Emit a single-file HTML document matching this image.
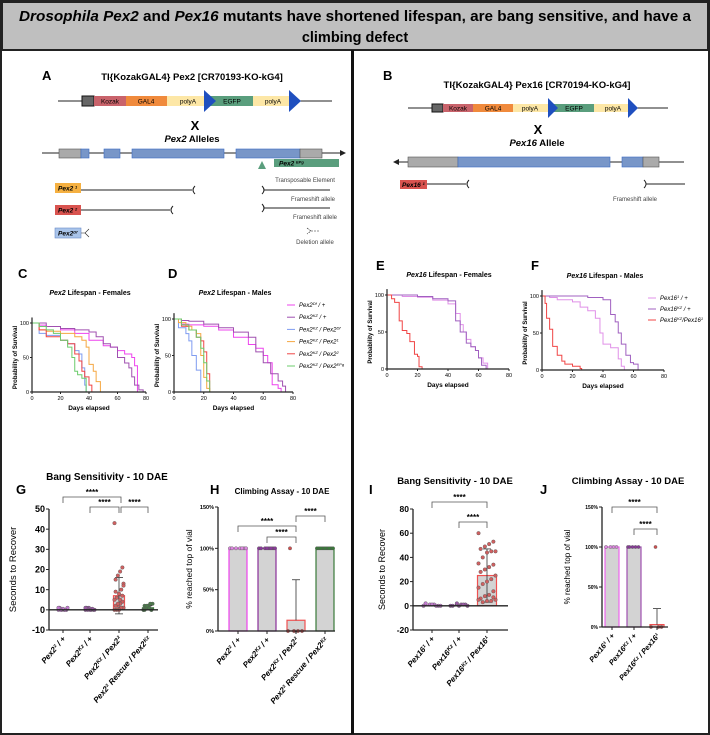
<!DOCTYPE html>
<html><head><meta charset="utf-8"><style>
html,body{margin:0;padding:0;background:#fff}
svg{display:block;font-family:"Liberation Sans",sans-serif}
</style></head><body>
<svg id="fig" width="710" height="735" viewBox="0 0 710 735">
<rect x="1" y="1" width="708" height="733" fill="#fff" stroke="#222" stroke-width="2"/>
<rect x="2" y="2" width="706" height="48" fill="#bfbfbf" stroke="#222" stroke-width="2"/>
<text x="355" y="21" font-size="14.5" font-weight="bold" text-anchor="middle" textLength="672" lengthAdjust="spacingAndGlyphs"><tspan font-style="italic">Drosophila Pex2</tspan> and <tspan font-style="italic">Pex16</tspan> mutants have shortened lifespan, are bang sensitive, and have a</text>
<text x="355" y="42" font-size="14.5" font-weight="bold" text-anchor="middle">climbing defect</text>
<line x1="352.5" y1="50" x2="352.5" y2="734" stroke="#111" stroke-width="3"/>

<!-- Panel A -->
<g font-size="6.5">
<text x="42" y="80" font-size="13" font-weight="bold">A</text>
<text x="192" y="80" font-size="9.5" font-weight="bold" text-anchor="middle">TI{KozakGAL4} Pex2 [CR70193-KO-kG4]</text>
<line x1="58" y1="101" x2="332" y2="101" stroke="#222"/>
<rect x="82" y="96" width="12" height="10" fill="#666" stroke="#111"/>
<rect x="94" y="96" width="32" height="10" fill="#c9636b"/><text x="110" y="103.5" text-anchor="middle">Kozak</text>
<rect x="126" y="96" width="41" height="10" fill="#f08a3c"/><text x="146" y="103.5" text-anchor="middle">GAL4</text>
<rect x="167" y="96" width="38" height="10" fill="#fde7a6"/><text x="188" y="103.5" text-anchor="middle">polyA</text>
<rect x="210" y="96" width="43" height="10" fill="#5a9e7d"/><text x="232" y="103.5" text-anchor="middle">EGFP</text>
<rect x="253" y="96" width="37" height="10" fill="#fde7a6"/><text x="273" y="103.5" text-anchor="middle">polyA</text>
<polygon points="204,90 216,101 204,112" fill="#1f4fbf"/>
<polygon points="289,90 301,101 289,112" fill="#1f4fbf"/>
<text x="195" y="130" font-size="13" font-weight="bold" text-anchor="middle">X</text>
<text x="192" y="142" font-size="9.5" font-weight="bold" text-anchor="middle"><tspan font-style="italic">Pex2</tspan> Alleles</text>
<line x1="42" y1="153" x2="343" y2="153" stroke="#222"/><polygon points="346,153 340,150 340,156" fill="#222"/>
<rect x="59" y="149" width="22" height="9" fill="#aaa" stroke="#555" stroke-width="0.6"/>
<rect x="81" y="149" width="8" height="9" fill="#7896c8" stroke="#3b6cc4" stroke-width="0.6"/>
<rect x="104" y="149" width="16" height="9" fill="#7896c8" stroke="#3b6cc4" stroke-width="0.6"/>
<rect x="132" y="149" width="92" height="9" fill="#7896c8" stroke="#3b6cc4" stroke-width="0.6"/>
<rect x="236" y="149" width="64" height="9" fill="#7896c8" stroke="#3b6cc4" stroke-width="0.6"/>
<rect x="300" y="149" width="22" height="9" fill="#aaa" stroke="#555" stroke-width="0.6"/>
<polygon points="262,161 258,169 266,169" fill="#5a9e7d"/>
<rect x="274" y="159" width="65" height="8" fill="#5a9e7d"/><text x="279" y="165.5" font-style="italic" font-weight="bold">Pex2 <tspan font-size="4" dy="-2">EPg</tspan></text>
<text x="305" y="182" text-anchor="middle" fill="#444" font-size="6">Transposable Element</text>
<rect x="55" y="183" width="26" height="10" fill="#f5b041"/><text x="58" y="190.5" font-style="italic" font-weight="bold">Pex2 <tspan font-size="4" dy="-2">1</tspan></text>
<line x1="81" y1="190" x2="192" y2="190" stroke="#222"/><path d="M195,186 Q191,190 195,194" fill="none" stroke="#222"/>
<path d="M262,186 Q266,190 262,194" fill="none" stroke="#222"/><line x1="264" y1="190" x2="330" y2="190" stroke="#222"/>
<text x="313" y="201" text-anchor="middle" fill="#444" font-size="6">Frameshift allele</text>
<rect x="55" y="205" width="26" height="10" fill="#d9534f"/><text x="58" y="212.5" font-style="italic" font-weight="bold">Pex2 <tspan font-size="4" dy="-2">2</tspan></text>
<line x1="81" y1="210" x2="170" y2="210" stroke="#222"/><path d="M173,206 Q169,210 173,214" fill="none" stroke="#222"/>
<path d="M262,204 Q266,208 262,212" fill="none" stroke="#222"/><line x1="264" y1="208" x2="330" y2="208" stroke="#222"/>
<text x="315" y="219" text-anchor="middle" fill="#444" font-size="6">Frameshift allele</text>
<rect x="55" y="228" width="26" height="10" fill="#a9c4ea" stroke="#6a8cc8" stroke-width="0.6"/><text x="58" y="235.5" font-style="italic" font-weight="bold">Pex2<tspan font-size="4" dy="-2">Df</tspan></text>
<path d="M81,233 L85,233 L89,229 M85,233 L89,237" fill="none" stroke="#222" stroke-width="0.6"/>
<path d="M307,228 L311,231 L307,234 M311,231 L320,231" fill="none" stroke="#222" stroke-width="0.6" stroke-dasharray="2,1"/>
<text x="315" y="244" text-anchor="middle" fill="#444" font-size="6">Deletion allele</text>
</g>

<!-- Panel B -->
<g font-size="6.5">
<text x="383" y="80" font-size="13" font-weight="bold">B</text>
<text x="537" y="88" font-size="9.5" font-weight="bold" text-anchor="middle">TI{KozakGAL4} Pex16 [CR70194-KO-kG4]</text>
<line x1="408" y1="108" x2="668" y2="108" stroke="#222"/>
<rect x="432" y="104" width="11" height="8" fill="#666" stroke="#111"/>
<rect x="443" y="104" width="30" height="8" fill="#c9636b"/><text x="458" y="110.5" text-anchor="middle">Kozak</text>
<rect x="473" y="104" width="40" height="8" fill="#f08a3c"/><text x="493" y="110.5" text-anchor="middle">GAL4</text>
<rect x="513" y="104" width="37" height="8" fill="#fde7a6"/><text x="530" y="110.5" text-anchor="middle">polyA</text>
<rect x="553" y="104" width="41" height="8" fill="#5a9e7d"/><text x="574" y="110.5" text-anchor="middle">EGFP</text>
<rect x="594" y="104" width="36" height="8" fill="#fde7a6"/><text x="613" y="110.5" text-anchor="middle">polyA</text>
<polygon points="548,98 558,108 548,118" fill="#1f4fbf"/>
<polygon points="628,98 638,108 628,118" fill="#1f4fbf"/>
<text x="538" y="134" font-size="13" font-weight="bold" text-anchor="middle">X</text>
<text x="537" y="146" font-size="9.5" font-weight="bold" text-anchor="middle"><tspan font-style="italic">Pex16</tspan> Allele</text>
<line x1="396" y1="162" x2="684" y2="162" stroke="#222"/><polygon points="393,162 399,159 399,165" fill="#222"/>
<rect x="408" y="157" width="50" height="10" fill="#aaa" stroke="#555" stroke-width="0.6"/>
<rect x="458" y="157" width="152" height="10" fill="#7896c8" stroke="#3b6cc4" stroke-width="0.6"/>
<rect x="622" y="157" width="21" height="10" fill="#7896c8" stroke="#3b6cc4" stroke-width="0.6"/>
<rect x="643" y="157" width="16" height="10" fill="#aaa" stroke="#555" stroke-width="0.6"/>
<rect x="400" y="180" width="27" height="9" fill="#d9534f"/><text x="402" y="187" font-style="italic" font-weight="bold">Pex16 <tspan font-size="4" dy="-2">1</tspan></text>
<line x1="427" y1="184" x2="466" y2="184" stroke="#222"/><path d="M469,180 Q465,184 469,188" fill="none" stroke="#222"/>
<path d="M644,180 Q648,184 644,188" fill="none" stroke="#222"/><line x1="646" y1="184" x2="685" y2="184" stroke="#222"/>
<text x="635" y="201" text-anchor="middle" fill="#444" font-size="6">Frameshift allele</text>
</g>

<g font-size="13" font-weight="bold">
<text x="18" y="278">C</text><text x="168" y="278">D</text>
<text x="376" y="270">E</text><text x="531" y="270">F</text>
<text x="16" y="494">G</text><text x="210" y="494">H</text>
<text x="369" y="494">I</text><text x="540" y="494">J</text>
</g>
<g id="charts"></g>
</svg>
<script>
// ---------- survival data ----------
const cFemDfDays=[0,5,10,20,30,40,50,55,60,65,70,72,74];
const cFemDfSurv=[100,97,95,90,85,75,67,65,60,55,50,38,0];
const cFemKzDays=[0,10,20,30,40,45,50,55,60,65,68,70,72,75,78];
const cFemKzSurv=[100,95,92,90,87,80,70,65,50,42,35,22,10,3,0];
const cFemKzDfDays=[0,5,10,20,25,30,33,35,37,38];
const cFemKzDfSurv=[100,85,82,75,70,60,55,35,10,0];
const cFemKz1Days=[0,5,10,20,30,35,38,40,43,45,48];
const cFemKz1Surv=[100,90,88,85,80,75,65,40,30,15,0];
const cFemKz2Days=[0,5,10,20,25,30,33,35,37,40,42];
const cFemKz2Surv=[100,90,80,75,70,55,45,30,22,10,0];
const cFemEpgDays=[0,5,10,15,20,25,28,30,32,35,38];
const cFemEpgSurv=[100,95,90,85,75,65,50,30,25,20,0];
const dMalDfDays=[0,5,10,20,30,40,50,55,60,63,66,70,72];
const dMalDfSurv=[100,93,92,90,85,75,65,60,50,40,10,5,0];
const dMalKzDays=[0,5,10,20,30,40,50,55,60,65,70,73,75];
const dMalKzSurv=[100,98,97,93,88,82,75,55,40,25,15,8,0];
const dMalKzDfDays=[0,3,8,10,12,15,18];
const dMalKzDfSurv=[100,88,80,70,50,30,0];
const dMalKz1Days=[0,3,8,12,15,18,20,22,24];
const dMalKz1Surv=[100,95,90,85,80,50,20,5,0];
const dMalKz2Days=[0,5,10,15,18,20,22,24];
const dMalKz2Surv=[100,90,85,75,70,55,25,0];
const dMalEpgDays=[0,5,10,15,18,20,22,24];
const dMalEpgSurv=[100,92,85,75,60,40,15,0];
const eFem1Days=[0,10,20,30,40,45,48,50,52,55,58,60,63,66];
const eFem1Surv=[100,98,97,93,88,75,60,50,40,30,25,15,8,0];
const eFemKzDays=[0,20,30,40,45,48,52,55,58,60,62,65];
const eFemKzSurv=[100,98,95,92,65,50,35,30,25,15,5,0];
const eFemMutDays=[0,3,5,8,10,13,15,17,18,20,21,23];
const eFemMutSurv=[100,95,90,65,52,48,37,37,20,17,3,0];
const fMal1Days=[0,5,10,20,25,30,35,38,40,45,50,52,54];
const fMal1Surv=[100,98,95,92,85,80,70,50,35,30,15,5,0];
const fMalKzDays=[0,20,30,40,45,48,50,52,55,58,60,63];
const fMalKzSurv=[100,100,98,95,75,65,50,35,20,10,8,0];
const fMalMutDays=[0,2,3,5,7,10,13,15,20,25,26];
const fMalMutSurv=[100,90,70,55,32,20,12,8,5,2,0];
const survTicksX=[0,20,40,60,80];
const survTicksY=[0,50,100];

// ---------- bar data ----------
const gCats=["Pex2² / +","Pex2ᴷᶻ / +","Pex2ᴷᶻ / Pex2²","Pex2² Rescue / Pex2ᴷᶻ"];
const gMeans=[0.3,0.3,7,1];
const gSd=[0.4,0.4,9,1];
const gDots1=[0,0,0,0,1,1,0,0.5,0,1];
const gDots2=[0,0,0,1,1,0,0.5,0,0,1];
const gDots3=[43,21,19,17,15,13,10,8,6,5,4,3,2,2,1,1,0,0,0,7,5,3,9,12];
const gDots4=[0,0,1,1,2,3,3,2,1,0,0,1,2,0];
const gTicks=[-10,0,10,20,30,40,50];
const hCats=["Pex2² / +","Pex2ᴷᶻ / +","Pex2ᴷᶻ / Pex2²","Pex2² Rescue / Pex2ᴷᶻ"];
const hMeans=[100,100,13,100];
const hErrUp=[0,0,49,0];
const hDots1=[100,100,100,100,100,100,100];
const hDots2=[100,100,100,100,100,100,100,100];
const hDots3=[0,0,0,0,100];
const hDots4=[100,100,100,100,100,100,100,100,100];
const hTicks=[0,50,100,150];
const iCats=["Pex16¹ / +","Pex16ᴷᶻ / +","Pex16ᴷᶻ / Pex16¹"];
const iMeans=[0.5,0.5,25];
const iSd=[0.5,0.5,22];
const iDots1=[0,0,1,1,2,0,0,1];
const iDots2=[0,1,1,2,0,0,1,0];
const iDots3=[60,53,51,49,47,45,45,44,40,35,34,32,30,28,25,22,20,18,15,12,9,8,6,5,4,4,3,5,7];
const iTicks=[-20,0,20,40,60,80];
const jCats=["Pex16¹ / +","Pex16ᴷᶻ / +","Pex16ᴷᶻ / Pex16¹"];
const jMeans=[100,100,3];
const jErrUp=[0,0,20];
const jDots1=[100,100,100,100];
const jDots2=[100,100,100,100,100];
const jDots3=[0,0,0,100];
const jTicks=[0,50,100,150];

const NS="http://www.w3.org/2000/svg";
const root=document.getElementById('charts');
function mk(tag,attrs,parent,txt){const e=document.createElementNS(NS,tag);for(const k in attrs)e.setAttribute(k,attrs[k]);if(txt!==undefined)e.textContent=txt;(parent||root).appendChild(e);return e;}

function survChart(cfg){
  const g=mk('g',{});
  
  
  const sx=v=>cfg.x0+(cfg.x1-cfg.x0)*v/80, sy=v=>cfg.y0+(cfg.y1-cfg.y0)*v/100;
  const t=mk('text',{x:cfg.tx,y:cfg.ty,'font-size':7,'font-weight':'bold','text-anchor':'middle'},g);
  t.innerHTML='<tspan font-style="italic">'+cfg.gene+'</tspan> '+cfg.title;
  
  
  cfg.series.forEach(s=>{
    let d='M'+sx(s.d[0])+','+sy(s.s[0]);
    for(let i=1;i<s.d.length;i++){d+=' H'+sx(s.d[i])+' V'+sy(s.s[i]);}
    const p=mk('path',{d:d,fill:'none',stroke:s.c,'stroke-width':1},g);
    
    
  });
  mk('line',{x1:cfg.x0,y1:cfg.y0,x2:cfg.x1,y2:cfg.y0,stroke:'#222','stroke-width':1.2},g);
  mk('line',{x1:cfg.x0,y1:cfg.y0,x2:cfg.x0,y2:sy(108),stroke:'#222','stroke-width':1.2},g);
  survTicksX.forEach(v=>{mk('line',{x1:sx(v),y1:cfg.y0,x2:sx(v),y2:cfg.y0+2,stroke:'#222'},g);
    mk('text',{x:sx(v),y:cfg.y0+8,'font-size':5.5,'text-anchor':'middle'},g,String(v));});
  survTicksY.forEach(v=>{mk('line',{x1:cfg.x0-2,y1:sy(v),x2:cfg.x0,y2:sy(v),stroke:'#222'},g);
    mk('text',{x:cfg.x0-3,y:sy(v)+2,'font-size':5.5,'text-anchor':'end'},g,String(v));});
  mk('text',{x:(cfg.x0+cfg.x1)/2,y:cfg.y0+18,'font-size':6.5,'font-weight':'bold','text-anchor':'middle'},g,'Days elapsed');
  mk('text',{x:0,y:0,'font-size':6,'font-weight':'bold','text-anchor':'middle',transform:`translate(${cfg.x0-15},${(cfg.y0+cfg.y1)/2}) rotate(-90)`},g,'Probability of Survival');
  if(cfg.legend){cfg.legend.forEach((l,i)=>{const y=cfg.ly+i*cfg.ld;
    mk('line',{x1:cfg.lx,y1:y,x2:cfg.lx+8,y2:y,stroke:cfg.series[i].c},g);
    const lt=mk('text',{x:cfg.lx+12,y:y+2,'font-size':6,'font-style':'italic'},g);lt.innerHTML=l;
    
    });}
}
const P2={df:'#ee44ee',kz:'#a050b0',kzdf:'#7f9cf0',k1:'#f5a742',k2:'#f04545',epg:'#6ccc6c'};
survChart({name:'pex2-females-survival',gene:'Pex2',title:'Lifespan - Females',tx:90,ty:295,x0:32,x1:146,y0:392,y1:323,series:[
 {d:cFemDfDays,s:cFemDfSurv,c:P2.df},{d:cFemKzDays,s:cFemKzSurv,c:P2.kz},{d:cFemKzDfDays,s:cFemKzDfSurv,c:P2.kzdf},
 {d:cFemKz1Days,s:cFemKz1Surv,c:P2.k1},{d:cFemKz2Days,s:cFemKz2Surv,c:P2.k2},{d:cFemEpgDays,s:cFemEpgSurv,c:P2.epg}]});
survChart({name:'pex2-males-survival',gene:'Pex2',title:'Lifespan - Males',tx:235,ty:295,x0:174,x1:293,y0:392,y1:319,series:[
 {d:dMalDfDays,s:dMalDfSurv,c:P2.df},{d:dMalKzDays,s:dMalKzSurv,c:P2.kz},{d:dMalKzDfDays,s:dMalKzDfSurv,c:P2.kzdf},
 {d:dMalKz1Days,s:dMalKz1Surv,c:P2.k1},{d:dMalKz2Days,s:dMalKz2Surv,c:P2.k2},{d:dMalEpgDays,s:dMalEpgSurv,c:P2.epg}],
 lx:287,ly:305,ld:12.2,legend:['Pex2<tspan font-size="4" dy="-2">Df</tspan><tspan dy="2"> / +</tspan>','Pex2<tspan font-size="4" dy="-2">KZ</tspan><tspan dy="2"> / +</tspan>','Pex2<tspan font-size="4" dy="-2">KZ</tspan><tspan dy="2"> / Pex2</tspan><tspan font-size="4" dy="-2">Df</tspan>','Pex2<tspan font-size="4" dy="-2">KZ</tspan><tspan dy="2"> / Pex2</tspan><tspan font-size="4" dy="-2">1</tspan>','Pex2<tspan font-size="4" dy="-2">KZ</tspan><tspan dy="2"> / Pex2</tspan><tspan font-size="4" dy="-2">2</tspan>','Pex2<tspan font-size="4" dy="-2">KZ</tspan><tspan dy="2"> / Pex2</tspan><tspan font-size="4" dy="-2">EPg</tspan>']});
const P16={a:'#e090e8',kz:'#a060c0',m:'#f04545'};
survChart({name:'pex16-females-survival',gene:'Pex16',title:'Lifespan - Females',tx:449,ty:277,x0:387,x1:509,y0:369,y1:295,series:[
 {d:eFem1Days,s:eFem1Surv,c:P16.a},{d:eFemKzDays,s:eFemKzSurv,c:P16.kz},{d:eFemMutDays,s:eFemMutSurv,c:P16.m}]});
survChart({name:'pex16-males-survival',gene:'Pex16',title:'Lifespan - Males',tx:605,ty:278,x0:542,x1:664,y0:370,y1:296,series:[
 {d:fMal1Days,s:fMal1Surv,c:P16.a},{d:fMalKzDays,s:fMalKzSurv,c:P16.kz},{d:fMalMutDays,s:fMalMutSurv,c:P16.m}],
 lx:648,ly:298,ld:11,legend:['Pex16<tspan font-size="4" dy="-2">1</tspan><tspan dy="2"> / +</tspan>','Pex16<tspan font-size="4" dy="-2">KZ</tspan><tspan dy="2"> / +</tspan>','Pex16<tspan font-size="4" dy="-2">KZ</tspan><tspan dy="2">/Pex16</tspan><tspan font-size="4" dy="-2">1</tspan>']});

function barChart(c){
  const g=mk('g',{});
  
  
  const vmin=c.ticks[0],vmax=c.ticks[c.ticks.length-1];
  const sy=v=>c.yb+(c.yt-c.yb)*(v-vmin)/(vmax-vmin);
  const t=mk('text',{x:c.tx,y:c.ty,'font-size':c.tfs,'font-weight':'bold','text-anchor':'middle'},g,c.title);
  
  
  const base=sy(Math.max(0,vmin));
  c.means.forEach((m,i)=>{const x=c.cx[i];
    const b=mk('rect',{x:x-c.bw/2,y:Math.min(sy(m),base),width:c.bw,height:Math.abs(base-sy(m)),fill:'#d3d3d3',stroke:c.colors[i],'stroke-width':1.2},g);
    
    
    const up=c.sd?m+c.sd[i]:m+c.errUp[i], dn=c.sd?m-c.sd[i]:m;
    if(up!==m){mk('line',{x1:x,y1:sy(up),x2:x,y2:sy(dn),stroke:'#333','stroke-width':0.8},g);
      mk('line',{x1:x-4,y1:sy(up),x2:x+4,y2:sy(up),stroke:'#333','stroke-width':0.8},g);
      if(c.sd)mk('line',{x1:x-4,y1:sy(dn),x2:x+4,y2:sy(dn),stroke:'#333','stroke-width':0.8},g);}
    c.dots[i].forEach((v,j)=>{const off=(((j*7)%9)-4)/4*(c.bw/2-1);
      const d=mk('circle',{cx:x+off,cy:sy(v),r:c.r,fill:c.dotFill[i],stroke:'#555','stroke-width':0.4},g);
      
      });
  });
  mk('line',{x1:c.ax,y1:c.yb,x2:c.ax,y2:c.yt,stroke:'#222','stroke-width':1.3},g);
  mk('line',{x1:c.ax,y1:c.yb,x2:c.ax2,y2:c.yb,stroke:'#222','stroke-width':1.3},g);
  if(vmin<0)mk('line',{x1:c.ax,y1:sy(0),x2:c.ax2,y2:sy(0),stroke:'#222','stroke-width':1.3},g);
  c.ticks.forEach(v=>{mk('line',{x1:c.ax-3,y1:sy(v),x2:c.ax,y2:sy(v),stroke:'#222'},g);
    mk('text',{x:c.ax-4,y:sy(v)+c.kfs*0.35,'font-size':c.kfs,'font-weight':'bold','text-anchor':'end'},g,String(v)+(c.pct?'%':''));});
  c.cx.forEach((x,i)=>{mk('line',{x1:x,y1:c.yb,x2:x,y2:c.yb+3,stroke:'#222'},g);
    const l=mk('text',{x:0,y:0,'font-size':c.lfs,'font-style':'italic','font-weight':'bold','text-anchor':'end',transform:`translate(${x+3},${c.yb+9}) rotate(-50)`},g,c.cats[i]);
    
    });
  mk('text',{x:0,y:0,'font-size':c.yfs,'text-anchor':'middle',transform:`translate(${c.ylx},${(c.yb+c.yt)/2}) rotate(-90)`},g,c.ylabel);
  c.brackets.forEach(b=>{const y=b[2];
    mk('path',{d:`M${b[0]},${y+6} V${y} H${b[1]} V${y+6}`,fill:'none',stroke:'#555','stroke-width':0.8},g);
    mk('text',{x:(b[0]+b[1])/2,y:y-2,'font-size':8,'font-weight':'bold','text-anchor':'middle'},g,'****');});
}
barChart({name:'pex2-bang-sensitivity',title:'Bang Sensitivity - 10 DAE',tx:107,ty:480,tfs:10,ticks:gTicks,yb:630,yt:509,ax:49,ax2:158,
 cx:[63,90,119,148],bw:11,means:gMeans,sd:gSd,dots:[gDots1,gDots2,gDots3,gDots4],r:1.8,
 colors:['#ee44ee','#a050b0','#f05050','#3a7a3a'],dotFill:['#c37bd0','#9a5aa5','#d06060','#4a7a4a'],
 kfs:9,lfs:8,cats:gCats,yfs:9.5,ylx:16,ylabel:'Seconds to Recover',brackets:[[63,121,497],[90,119,507],[121,148,507]]});
barChart({name:'pex2-climbing-assay',title:'Climbing Assay - 10 DAE',tx:282,ty:494,tfs:8,ticks:hTicks,yb:631,yt:507,ax:218,ax2:335,pct:true,
 cx:[238,267,296,325],bw:18,means:hMeans,errUp:hErrUp,dots:[hDots1,hDots2,hDots3,hDots4],r:1.7,
 colors:['#ee44ee','#8a2f9a','#f05050','#3a7a3a'],dotFill:['#dd88e0','#8a3a9a','#d05050','#3a7a3a'],
 kfs:5.5,lfs:8,cats:hCats,yfs:8.5,ylx:192,ylabel:'% reached top of vial',brackets:[[238,296,526],[267,296,537],[296,325,516]]});
barChart({name:'pex16-bang-sensitivity',title:'Bang Sensitivity - 10 DAE',tx:455,ty:484,tfs:9.5,ticks:iTicks,yb:630,yt:509,ax:413,ax2:508,
 cx:[432,459,487],bw:19,means:iMeans,sd:iSd,dots:[iDots1,iDots2,iDots3],r:1.8,
 colors:['#ee44ee','#a050b0','#f05050'],dotFill:['#c37bd0','#9a5aa5','#d06060'],
 kfs:8.5,lfs:8,cats:iCats,yfs:9,ylx:385,ylabel:'Seconds to Recover',brackets:[[432,487,502],[459,487,522]]});
barChart({name:'pex16-climbing-assay',title:'Climbing Assay - 10 DAE',tx:628,ty:484,tfs:9.5,ticks:jTicks,yb:627,yt:507,ax:602,ax2:668,pct:true,
 cx:[612,634,657],bw:14,means:jMeans,errUp:jErrUp,dots:[jDots1,jDots2,jDots3],r:1.6,
 colors:['#ee66ee','#a050b0','#f05050'],dotFill:['#dd88e0','#8a3a9a','#d05050'],
 kfs:5,lfs:7.5,cats:jCats,yfs:8,ylx:570,ylabel:'% reached top of vial',brackets:[[612,657,507],[634,657,529]]});
</script>
</body></html>
